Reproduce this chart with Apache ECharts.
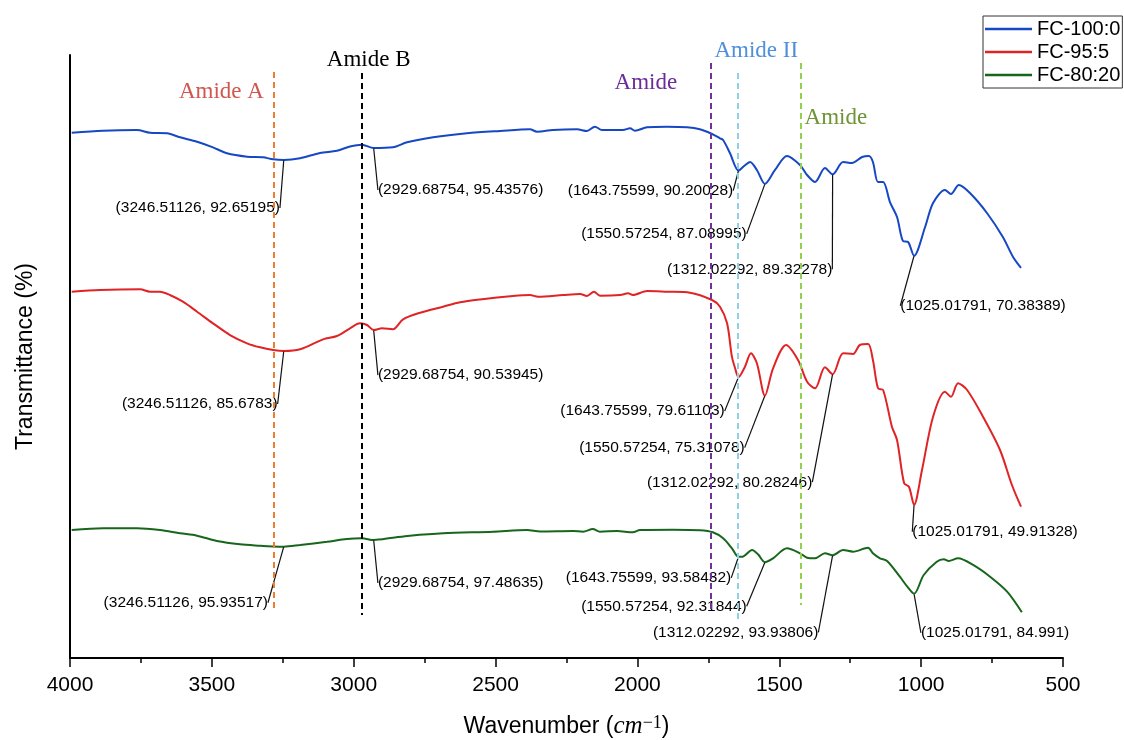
<!DOCTYPE html>
<html>
<head>
<meta charset="utf-8">
<script src="https://cdn.jsdelivr.net/npm/echarts@6/dist/echarts.min.js"></script>
<style>html,body{margin:0;padding:0;background:#fff}#c{width:1124px;height:740px}</style>
</head>
<body>
<div id="c"></div>
<script>
// ---------- DATA ----------
const seriesNames = ['FC-100:0', 'FC-95:5', 'FC-80:20'];

const blueWn = [3994,3884,3764,3718,3658,3612,3552,3496,3447,3376,3320,3284,3246.51126,3189,3119,3059,3013,2971,2929.68754,2862,2812,2720,2601,2484,2379,2354,2298,2213,2178,2150,2125,2051,2026,2009,1966,1896,1825,1780,1737,1709,1698,1674,1643.75599,1624,1603,1579,1550.57254,1515,1473,1427,1402,1374,1339,1312.02292,1275,1244,1208,1184,1170,1152,1134,1110,1085,1064,1046,1025.01791,986,958,916,895,867,828,768,712,676,648];
const blueT  = [99.00,99.47,99.63,99.00,98.86,97.93,96.91,95.60,94.21,93.42,93.28,92.81,92.65195,93.05,94.28,94.81,95.79,96.21,95.43576,95.60,96.77,97.93,98.86,99.40,99.79,99.23,99.63,99.79,99.40,100.40,99.63,99.63,100.02,99.47,100.26,100.40,100.26,99.79,98.70,97.70,97.30,94.28,90.20028,91.26,92.19,90.33,87.08995,90.33,93.58,91.49,89.16,87.54,90.79,89.32278,92.19,91.95,93.35,93.58,92.19,87.54,87.54,82.88,79.40,73.81,73.58,70.38389,77.07,82.65,85.67,84.74,86.84,84.98,80.33,74.74,70.09,67.54];

const redWn = [3994,3894,3753,3718,3683,3648,3602,3552,3496,3436,3376,3330,3284,3246.51126,3189,3108,3059,3013,2978,2953,2929.68754,2900,2862,2826,2766,2685,2625,2555,2439,2379,2350,2262,2202,2178,2153,2132,2061,2033,2016,1966,1896,1815,1737,1709,1684,1667,1656,1643.75599,1621,1600,1579,1550.57254,1522,1476,1434,1402,1374,1339,1312.02292,1275,1240,1216,1187,1170,1152,1134,1103,1085,1060,1043,1025.01791,997,958,916,895,870,838,782,722,680,648];
const redT  = [99.47,99.87,100.03,99.47,99.47,98.71,97.15,94.82,92.12,89.40,87.47,86.54,85.92,85.6783,86.08,88.40,89.17,90.96,92.12,91.73,90.53945,90.96,90.73,93.05,94.59,95.99,97.01,97.66,98.47,98.71,98.31,98.71,98.94,98.47,99.47,98.54,98.71,99.10,98.71,99.64,99.47,99.24,97.54,95.99,92.12,84.36,81.73,79.61103,82.03,85.15,82.82,75.31078,81.66,87.08,83.59,78.54,77.01,81.89,80.28246,85.15,84.99,87.08,87.31,83.59,77.01,76.61,68.08,64.99,54.92,54.12,49.91328,58.01,70.40,76.22,75.05,78.17,76.61,70.40,62.66,54.52,49.47];

const greenWn = [3994,3884,3764,3683,3612,3552,3482,3401,3330,3284,3246.51126,3189,3094,3024,2971,2929.68754,2862,2802,2685,2509,2389,2343,2227,2192,2157,2132,2072,2016,1991,1875,1780,1734,1698,1667,1643.75599,1629,1596,1575,1550.57254,1522,1473,1427,1402,1374,1339,1312.02292,1275,1240,1187,1170,1145,1120,1075,1046,1025.01791,991,945,920,903,870,817,757,697,645];
const greenT  = [99.82,100.22,100.22,99.82,99.06,98.50,97.27,96.50,96.17,96.00,95.93517,96.34,97.10,97.73,97.89,97.48635,98.03,98.50,99.06,99.43,99.82,99.48,99.59,99.43,100.06,99.43,99.59,99.29,99.82,99.89,99.76,99.29,97.89,95.57,93.58432,93.62,95.17,94.17,92.31844,93.24,95.57,94.41,93.38,93.24,94.41,93.93806,95.17,94.78,95.71,94.41,93.24,92.62,88.96,86.41,84.991,89.36,92.45,93.01,92.62,93.24,91.69,88.96,85.48,80.69];

const peakWn     = [3246.51126, 2929.68754, 1643.75599, 1550.57254, 1312.02292, 1025.01791];
const bluePeakT  = [92.65195, 95.43576, 90.20028, 87.08995, 89.32278, 70.38389];
const redPeakT   = [85.6783, 90.53945, 79.61103, 75.31078, 80.28246, 49.91328];
const greenPeakT = [95.93517, 97.48635, 93.58432, 92.31844, 93.93806, 84.991];

const bandWn    = [3283, 2972, 1741, 1648, 1424];
const bandNames = ['Amide A', 'Amide B', 'Amide', 'Amide II', 'Amide'];

const xMin = 500, xMax = 4000, xInterval = 500;

// ---------- STYLE / LAYOUT ----------
const curveColors = ['#1548c2', '#e02426', '#17661b'];
const bandLineColors = ['#ed7d31', '#000000', '#7030a0', '#8fd0e2', '#92d050'];
const bandTextColors = ['#d0564f', '#000000', '#6a2c9c', '#4f8fdc', '#6f9434'];
// helper axis in grid pixels (0 = grid top)
const bandTop = [17, 18, 8, 18, 8];
const bandBottom = [555, 560, 558, 565, 550];
const bandLabelOffsets = [[-52, 20], [7, -13], [-65, 20], [19, -22], [35, 55]];
const annOffsets = [
  [[-86, 48], [87, 42], [-88, 20], [-101, 50], [-83, 95], [69, 50]],
  [[-84, 53], [87, 45], [-96, 34], [-103, 52], [-103, 108], [81, 27]],
  [[-98, 56], [87, 43], [-90, 21], [-101, 44], [-97, 77], [81, 39]]
];
const yTop = [117.07, 154.52, 210.29];
const pxPerUnit = 4.3, plotH = 603;

const curves = [[blueWn, blueT], [redWn, redT], [greenWn, greenT]];
const peaks = [bluePeakT, redPeakT, greenPeakT];

const chart = echarts.init(document.getElementById('c'));

const yAxes = yTop.map((t, i) => ({
  type: 'value',
  min: t - plotH / pxPerUnit,
  max: t,
  show: i === 0,
  name: i === 0 ? 'Transmittance (%)' : '',
  nameLocation: 'middle',
  nameGap: 33,
  nameTextStyle: { fontSize: 23, color: '#000', fontFamily: 'Liberation Sans' },
  axisLine: { show: i === 0, onZero: false, lineStyle: { color: '#000', width: 2 } },
  axisTick: { show: false },
  axisLabel: { show: false },
  splitLine: { show: false }
}));
yAxes.push({ type: 'value', min: 0, max: plotH, inverse: true, show: false, splitLine: { show: false } });

const series = [];
curves.forEach((c, i) => {
  series.push({
    type: 'line',
    name: seriesNames[i],
    yAxisIndex: i,
    data: c[0].map((w, j) => [w, c[1][j]]),
    symbol: 'none',
    smooth: 0.3,
    lineStyle: { color: curveColors[i], width: 2 },
    itemStyle: { color: curveColors[i] },
    z: 3
  });
});
peaks.forEach((p, i) => {
  series.push({
    type: 'scatter',
    yAxisIndex: i,
    data: peakWn.map((w, j) => [w, p[j]]),
    symbolSize: 1,
    itemStyle: { color: 'rgba(0,0,0,0)', opacity: 1 },
    silent: true,
    label: {
      show: true,
      position: 'inside',
      formatter: (pp) => '(' + pp.value[0] + ', ' + pp.value[1] + ')',
      fontSize: 15.5,
      color: '#000',
      opacity: 1,
      textBorderWidth: 0,
      textBorderColor: 'transparent',
      fontFamily: 'Liberation Sans'
    },
    labelLine: { show: true, lineStyle: { color: '#111', width: 1.2, opacity: 1 } },
    labelLayout: (pp) => ({ dx: annOffsets[i][pp.dataIndex][0], dy: annOffsets[i][pp.dataIndex][1] }),
    z: 4
  });
});
series.push({
  type: 'scatter',
  yAxisIndex: 3,
  silent: true,
  symbolSize: 1,
  itemStyle: { color: 'rgba(0,0,0,0)', opacity: 1 },
  data: bandWn.map((w, i) => ({ value: [w, bandTop[i]], name: bandNames[i], label: { color: bandTextColors[i] } })),
  label: {
    show: true,
    position: 'inside',
    formatter: (pp) => pp.name,
    fontSize: 23,
    opacity: 1,
    textBorderWidth: 0,
    textBorderColor: 'transparent',
    fontFamily: 'Liberation Serif'
  },
  labelLayout: (pp) => ({ dx: bandLabelOffsets[pp.dataIndex][0], dy: bandLabelOffsets[pp.dataIndex][1] }),
  markLine: {
    silent: true,
    symbol: ['none', 'none'],
    label: { show: false },
    lineStyle: { type: [6, 4], width: 2 },
    data: bandWn.map((w, i) => [
      { coord: [w, bandTop[i]], lineStyle: { color: bandLineColors[i], type: [6, 4], width: 2 } },
      { coord: [w, bandBottom[i]] }
    ])
  },
  z: 2
});

chart.setOption({
  animation: false,
  backgroundColor: '#fff',
  grid: { left: 70, right: 61, top: 55, bottom: 82, containLabel: false, outerBoundsMode: 'none' },
  legend: {
    data: seriesNames.map((n) => ({ name: n, icon: 'path://M0,0M47,14M0,5.8H47V8.2H0Z' })),
    orient: 'vertical',
    left: 983,
    top: 16,
    padding: [3, 2, 3, 2],
    itemGap: 3,
    itemWidth: 47,
    itemHeight: 14,
    borderColor: '#333',
    borderWidth: 1,
    textStyle: { fontSize: 20, color: '#000', fontFamily: 'Liberation Sans' }
  },
  xAxis: {
    type: 'value',
    min: xMin,
    max: xMax,
    interval: xInterval,
    inverse: true,
    name: '{a|Wavenumber (}{b|cm}{c|−1}{a|)}',
    nameLocation: 'middle',
    nameGap: 56,
    nameTextStyle: {
      rich: {
        a: { fontSize: 23, fontFamily: 'Liberation Sans', color: '#000' },
        b: { fontSize: 25, fontFamily: 'Liberation Serif', fontStyle: 'italic', color: '#000' },
        c: { fontSize: 18, fontFamily: 'Liberation Serif', color: '#000', verticalAlign: 'top' }
      }
    },
    axisLine: { onZero: false, lineStyle: { color: '#000', width: 2 } },
    axisTick: { show: true, inside: false, length: 9, lineStyle: { color: '#000', width: 1.5 } },
    minorTick: { show: true, splitNumber: 2, length: 5, lineStyle: { color: '#000', width: 1.5 } },
    axisLabel: { fontSize: 21, color: '#000', margin: 17, fontFamily: 'Liberation Sans', formatter: (v) => String(v) },
    splitLine: { show: false },
    minorSplitLine: { show: false }
  },
  yAxis: yAxes,
  series: series
});
</script>
</body>
</html>
